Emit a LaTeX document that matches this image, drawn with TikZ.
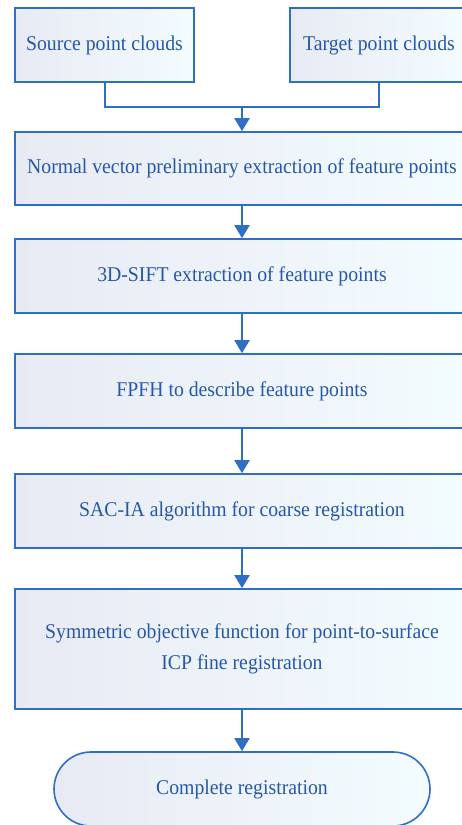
\documentclass[tikz,border=0pt]{standalone}
\usepackage{fontspec}
\setmainfont[FakeStretch=0.94]{Liberation Serif}
\usetikzlibrary{arrows.meta,shapes.misc}
\definecolor{lineblue}{HTML}{2F6EC2}
\definecolor{textblue}{HTML}{2558A6}
\definecolor{fillL}{HTML}{E8EAF3}
\definecolor{fillR}{HTML}{F3FCFF}
\tikzset{
  procbox/.style={draw=lineblue, line width=1.6pt, left color=fillL, right color=fillR,
    text=textblue, inner sep=0pt, font=\fontsize{21}{31}\selectfont, align=center},
  termbox/.style={procbox, rounded rectangle, rounded rectangle arc length=180},
  flow/.style={draw=lineblue, line width=2pt, -{Triangle[width=15pt,length=13pt]}},
  link/.style={draw=lineblue, line width=2pt}
}
\begin{document}
\begin{tikzpicture}[x=1pt,y=1pt]
\useasboundingbox (0,0) rectangle (461,-825);
\node[procbox, minimum width=179pt, minimum height=74pt] (src) at (104.5,-45) {Source point clouds};
\node[procbox, minimum width=178pt, minimum height=74pt] (tgt) at (379,-45) {Target point clouds};
\node[procbox, minimum width=454pt, minimum height=73pt] (b1) at (242,-168.5) {Normal vector preliminary extraction of feature points};
\node[procbox, minimum width=454pt, minimum height=74pt] (b2) at (242,-276) {3D-SIFT extraction of feature points};
\node[procbox, minimum width=454pt, minimum height=74pt] (b3) at (242,-391) {FPFH to describe feature points};
\node[procbox, minimum width=454pt, minimum height=74pt] (b4) at (242,-511) {SAC-IA algorithm for coarse registration};
\node[procbox, minimum width=454pt, minimum height=120pt] (b5) at (242,-649) {Symmetric objective function for point-to-surface\\ICP fine registration};
\node[termbox, minimum width=376pt, minimum height=74pt] (end) at (242,-789) {Complete registration};
\coordinate (j) at (242,-107);
\draw[link] (src.south) |- (j);
\draw[link] (tgt.south) |- (j);
\draw[flow] (j) -- (b1.north);
\draw[flow] (b1) -- (b2);
\draw[flow] (b2) -- (b3);
\draw[flow] (b3) -- (b4);
\draw[flow] (b4) -- (b5);
\draw[flow] (b5) -- (end);
\end{tikzpicture}
\end{document}
